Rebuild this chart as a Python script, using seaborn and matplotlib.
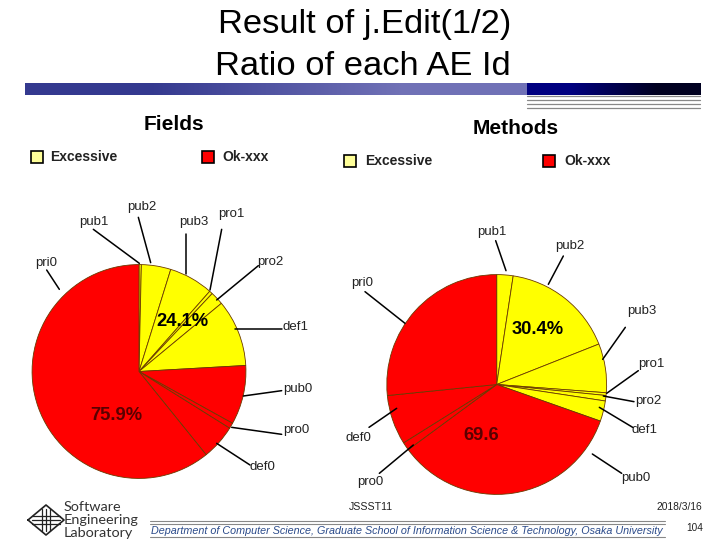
import matplotlib

matplotlib.use("Agg")

import matplotlib.pyplot as plt
import numpy as np
import seaborn as sns

# percent of each access level, clockwise from 12 o'clock
field_labels = ["pub1", "pub2", "pub3", "pro1", "pro2", "def1", "pub0", "pro0", "def0", "pri0"]
field_values = [0.35, 4.45, 6.7, 0.5, 2.0, 10.1, 8.95, 0.85, 5.3, 60.8]
method_labels = ["pub1", "pub2", "pub3", "pro1", "pro2", "def1", "pub0", "pro0", "def0", "pri0"]
method_values = [2.4, 16.6, 7.2, 0.4, 0.8, 3.0, 34.5, 1.2, 7.3, 26.6]
excessive_count = 6

YELLOW = "#ffff00"
RED = "#ff0000"

# zoom-crop pixels: (edge x, edge y, elbow x, elbow y, text x, text y)
field_leaders = [
    (418, 490, 280, 388, 282, 365), (452, 488, 415, 352, 425, 320), (558, 522, 558, 402, 580, 365),
    (630, 570, 665, 388, 695, 342), (650, 600, 775, 497, 812, 485), (705, 687, 845, 687, 886, 680),
    (730, 888, 845, 872, 893, 866), (695, 982, 845, 1003, 888, 990), (650, 1030, 750, 1095, 786, 1100),
    (178, 568, 140, 510, 138, 490),
]
method_leaders = [
    (528, 512, 497, 422, 486, 397), (655, 553, 700, 468, 718, 438), (818, 778, 886, 682, 936, 633),
    (830, 880, 925, 812, 965, 793), (820, 888, 912, 905, 955, 903), (808, 922, 908, 982, 945, 990),
    (787, 1062, 875, 1120, 916, 1133), (250, 1035, 148, 1120, 120, 1147), (200, 925, 117, 982, 85, 1015),
    (225, 670, 105, 575, 97, 550),
]

sns.set_theme(style="white")
plt.rcParams["font.family"] = ["Liberation Sans", "DejaVu Sans"]

W, H = 720, 540
fig = plt.figure(figsize=(7.2, 5.4), dpi=100)
# overlay in pixel coordinates, kept above the pies
bg = fig.add_axes([0, 0, 1, 1], zorder=3)
bg.set_xlim(0, W)
bg.set_ylim(H, 0)
bg.axis("off")


def draw_pie(values, cx, cy, r):
    ax = fig.add_axes([(cx - r) / W, 1 - (cy + r) / H, 2 * r / W, 2 * r / H], zorder=1)
    colors = [YELLOW] * excessive_count + [RED] * (len(values) - excessive_count)
    ax.pie(values, colors=colors, startangle=90, counterclock=False, radius=1,
           wedgeprops={"edgecolor": "#6a3a00", "linewidth": 0.6})
    ax.set_xlim(-1.01, 1.01)
    ax.set_ylim(-1.01, 1.01)
    ax.patch.set_alpha(0)


def draw_leaders(labels, leaders, ox, oy):
    for name, (x0, y0, x1, y1, tx, ty) in zip(labels, leaders):
        bg.plot([ox + x0 / 3, ox + x1 / 3], [oy + y0 / 3, oy + y1 / 3], color="black", lw=1.1, zorder=5)
        bg.text(ox + tx / 3, oy + ty / 3, name, fontsize=9.5, color="#222222", ha="center", va="center")


def draw_legend(x_box, x_text, y, x_box2, x_text2):
    for bx, tx, c, name in [(x_box, x_text, "#ffff99", "Excessive"), (x_box2, x_text2, RED, "Ok-xxx")]:
        bg.add_patch(plt.Rectangle((bx, y - 6), 12, 12, fc=c, ec="black", lw=1.2))
        bg.text(tx, y, name, fontsize=10, fontweight="bold", color="#222222", va="center")


draw_pie(field_values, 139, 371.5, 108)
draw_pie(method_values, 496.7, 384.5, 111)

draw_leaders(field_labels, field_leaders, 0, 100)
draw_leaders(method_labels, method_leaders, 330, 100)

# slide title
fig.text(365 / W, 1 - 25 / H, "Result of j.Edit(1/2)", fontsize=24.8, color="black", ha="center", va="center")
fig.text(362.5 / W, 1 - 66.5 / H, "Ratio of each AE Id", fontsize=24.8, color="black", ha="center", va="center")

# header band
grad = np.array([[0.0, 1.0]])
left_cmap = matplotlib.colors.LinearSegmentedColormap.from_list("left", ["#34398f", "#7071b6"])
right_cmap = matplotlib.colors.LinearSegmentedColormap.from_list("right", ["#000080", "#000020"])
bg.imshow(grad, extent=(25, 527, 95, 83), cmap=left_cmap, aspect="auto", interpolation="bilinear")
bg.imshow(grad, extent=(527, 701, 95, 83), cmap=right_cmap, aspect="auto", interpolation="bilinear")
bg.set_xlim(0, W)
bg.set_ylim(H, 0)
for y in (96, 100, 104, 108):
    bg.plot([527, 700], [y, y], color="#888888", lw=0.9)

# chart headings and legends
bg.text(174, 125, "Fields", fontsize=15, fontweight="bold", color="black", ha="center", va="center")
bg.text(516, 128, "Methods", fontsize=15, fontweight="bold", color="black", ha="center", va="center")
draw_legend(31, 50, 157, 202, 222)
draw_legend(344, 365, 161, 543, 564)

# percentage labels
pct = dict(fontsize=13.2, fontweight="bold", ha="center", va="center", zorder=6)
bg.text(182, 322, "24.1%", color="black", **pct)
bg.text(116, 416, "75.9%", color="#5a0000", **pct)
bg.text(538, 330, "30.4%", color="black", **pct)
bg.text(481, 435, "69.6", color="#5a0000", **pct)

# footer
bg.text(371, 507, "JSSST11", fontsize=7.6, color="#222222", ha="center", va="center")
bg.text(702, 507, "2018/3/16", fontsize=7.4, color="#222222", ha="right", va="center")
bg.text(695, 528, "104", fontsize=7.2, color="#222222", ha="center", va="center")
for y in (520.5, 524, 537):
    bg.plot([150, 665], [y, y], color="#888888", lw=0.8)
bg.text(407, 530.5, "Department of Computer Science, Graduate School of Information Science & Technology, Osaka University",
        fontsize=7.75, style="italic", color="#2a4a8a", ha="center", va="center")

# lab logo
lx, ly = 46, 520
bg.plot([lx - 18, lx, lx + 18, lx, lx - 18], [ly, ly - 15, ly, ly + 15, ly], color="#222222", lw=1.2)
for d in (-4, 0, 4):
    bg.plot([lx - 14, lx + 14], [ly + d, ly + d], color="#222222", lw=0.9)
    bg.plot([lx + d, lx + d], [ly - 11, ly + 11], color="#222222", lw=0.9)
for y, word in zip((507, 520, 533), ("Software", "Engineering", "Laboratory")):
    bg.text(64, y, word, fontsize=10.4, color="#333333", va="center", family="Lato")

fig.savefig("out.png", dpi=100)
plt.close(fig)
